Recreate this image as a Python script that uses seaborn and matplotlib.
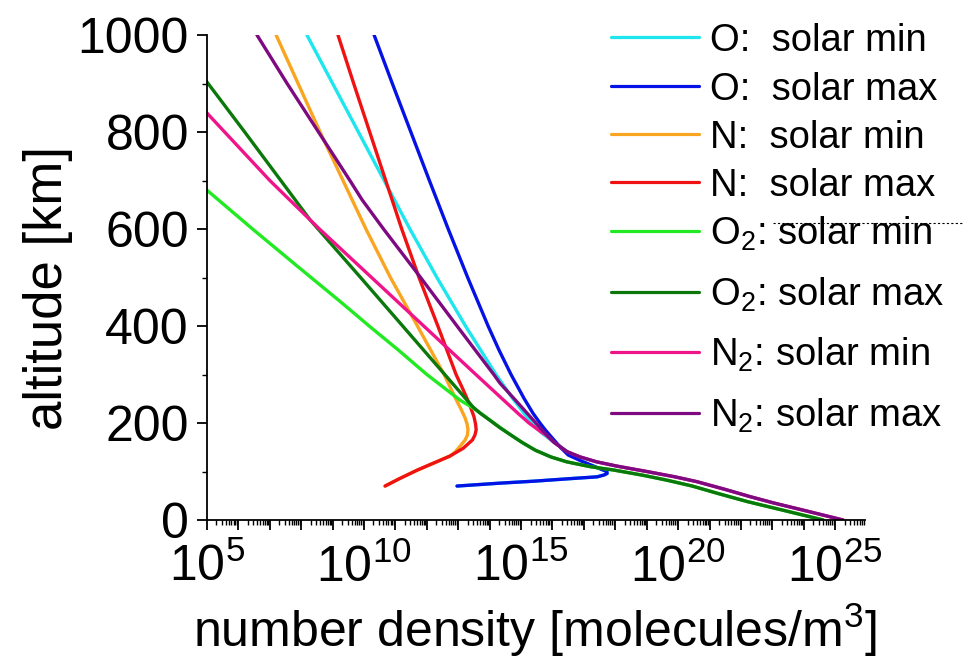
import numpy as np
import pandas as pd
import matplotlib
matplotlib.use("Agg")
import matplotlib.pyplot as plt
import seaborn as sns
from matplotlib.ticker import FixedLocator, FuncFormatter, MultipleLocator, NullFormatter
from matplotlib.lines import Line2D

# ---------------- data (altitude in km, log10 number density in molecules/m^3) -------------
series_order = ["O min", "O max", "N min", "N max", "O2 min", "O2 max", "N2 min", "N2 max"]
legend_labels = ["O:  solar min", "O:  solar max", "N:  solar min", "N:  solar max",
                 "O$_2$: solar min", "O$_2$: solar max", "N$_2$: solar min", "N$_2$: solar max"]
colors = ["#1DE6EF", "#0512E6", "#FAA520", "#F01212", "#22EA22", "#0B780B", "#F0148A", "#7E0A82"]

alt_O_min = [1000, 900, 800, 700, 600, 500, 400, 300, 250, 200, 180, 165, 150, 135, 120, 110, 100, 96, 93, 89, 85, 80, 76, 70]
log_O_min = [8.18, 9.0, 9.82, 10.64, 11.46, 12.32, 13.23, 14.2, 14.74, 15.33, 15.65, 15.95, 16.28, 16.6, 16.98, 17.35, 17.73, 17.74, 17.65, 17.42, 16.5, 15.4, 14.33, 12.96]

alt_O_max = [1000, 900, 800, 700, 600, 500, 400, 350, 300, 250, 220, 200, 185, 170, 150, 134, 120, 110, 100, 96, 93, 89, 85, 80, 76, 70]
log_O_max = [10.32, 10.9, 11.49, 12.08, 12.68, 13.3, 13.95, 14.3, 14.68, 15.1, 15.38, 15.6, 15.78, 15.98, 16.25, 16.5, 16.97, 17.35, 17.73, 17.74, 17.65, 17.42, 16.5, 15.4, 14.33, 12.96]

alt_N_min = [1000, 900, 800, 700, 600, 500, 400, 300, 270, 250, 227, 210, 198, 186, 175, 165, 150, 140, 132, 120, 103, 85, 70]
log_N_min = [7.2, 7.9, 8.6, 9.33, 10.06, 10.84, 11.7, 12.55, 12.77, 12.92, 13.1, 13.22, 13.28, 13.31, 13.29, 13.22, 13.03, 12.9, 12.74, 12.31, 11.7, 11.12, 10.67]

alt_N_max = [1000, 900, 800, 700, 600, 500, 400, 300, 268, 240, 213, 198, 186, 175, 165, 148, 132, 120, 103, 85, 70]
log_N_max = [9.17, 9.67, 10.18, 10.69, 11.2, 11.75, 12.35, 12.93, 13.16, 13.35, 13.5, 13.55, 13.57, 13.53, 13.45, 13.16, 12.74, 12.31, 11.7, 11.12, 10.67]

alt_O2_min = [700, 680, 600, 522, 450, 398, 350, 300, 270, 247, 233, 220, 205, 190, 175, 160, 144, 130, 120, 110, 103, 92, 82, 70, 55, 38, 20, 0]
log_O2_min = [4.65, 5.0, 6.45, 7.9, 9.25, 10.2, 11.1, 12.0, 12.6, 13.06, 13.42, 13.72, 14.03, 14.35, 14.68, 15.03, 15.45, 15.95, 16.45, 17.2, 17.95, 18.9, 19.65, 20.45, 21.25, 22.2, 23.35, 24.62]

alt_O2_max = [1000, 903, 800, 700, 619, 500, 400, 300, 247, 233, 220, 205, 190, 175, 160, 144, 130, 120, 110, 103, 92, 82, 70, 55, 38, 20, 0]
log_O2_max = [3.9, 5.0, 6.2, 7.35, 8.28, 9.89, 11.23, 12.57, 13.28, 13.47, 13.7, 14.02, 14.33, 14.68, 15.03, 15.45, 15.95, 16.45, 17.2, 17.95, 18.9, 19.65, 20.45, 21.25, 22.2, 23.35, 24.62]

alt_N2_min = [900, 839, 700, 600, 500, 400, 300, 254, 220, 200, 181, 175, 160, 141, 130, 120, 111, 100, 89, 79, 63, 48, 35, 20, 0]
log_N2_min = [4.1, 5.0, 7.0, 8.58, 10.24, 11.9, 13.56, 14.33, 14.9, 15.25, 15.65, 15.8, 16.05, 16.46, 16.88, 17.4, 18.06, 19.0, 19.9, 20.6, 21.5, 22.3, 23.05, 24.0, 25.25]

alt_N2_max = [1000, 900, 800, 700, 660, 600, 500, 400, 300, 282, 250, 200, 179, 160, 141, 130, 120, 111, 100, 89, 79, 63, 48, 35, 20, 0]
log_N2_max = [6.59, 7.55, 8.55, 9.55, 9.94, 10.62, 11.8, 12.96, 14.13, 14.33, 14.78, 15.47, 15.76, 16.05, 16.46, 16.88, 17.4, 18.06, 19.0, 19.9, 20.6, 21.5, 22.3, 23.05, 24.0, 25.25]

x_tick_exponents = [5, 10, 15, 20, 25]
y_tick_values = [0, 200, 400, 600, 800, 1000]

# ---------------- build long-form table ----------------
profiles = {
    "O min": (alt_O_min, log_O_min), "O max": (alt_O_max, log_O_max),
    "N min": (alt_N_min, log_N_min), "N max": (alt_N_max, log_N_max),
    "O2 min": (alt_O2_min, log_O2_min), "O2 max": (alt_O2_max, log_O2_max),
    "N2 min": (alt_N2_min, log_N2_min), "N2 max": (alt_N2_max, log_N2_max),
}
frames = []
for key in series_order:
    a, lg = profiles[key]
    frames.append(pd.DataFrame({"series": key, "altitude": a,
                                "density": np.power(10.0, np.array(lg, dtype=float))}))
df = pd.concat(frames, ignore_index=True)

# ---------------- style ----------------
sns.set_style("ticks")
plt.rcParams["font.family"] = ["Liberation Sans", "DejaVu Sans"]
plt.rcParams["mathtext.fontset"] = "custom"
plt.rcParams["mathtext.rm"] = "Liberation Sans"
plt.rcParams["mathtext.it"] = "Liberation Sans:italic"
plt.rcParams["mathtext.bf"] = "Liberation Sans:bold"
plt.rcParams["mathtext.default"] = "regular"
plt.rcParams["text.color"] = "black"
plt.rcParams["axes.labelcolor"] = "black"
plt.rcParams["xtick.color"] = "black"
plt.rcParams["ytick.color"] = "black"

W, H = 964, 662
fig = plt.figure(figsize=(W / 100, H / 100), dpi=100)
fig.patch.set_facecolor("white")
ax_l, ax_r, ax_t, ax_b = 207, 865, 35, 520
ax = fig.add_axes([ax_l / W, 1 - ax_b / H, (ax_r - ax_l) / W, (ax_b - ax_t) / H])
ax.set_facecolor("white")
ax.set_xscale("log")

sns.lineplot(data=df, x="density", y="altitude", hue="series", hue_order=series_order,
             palette=colors, sort=False, estimator=None, units="series",
             linewidth=2.4, legend=False, ax=ax)

ax.set_xlim(1e5, 10 ** 25.95)
ax.set_ylim(0, 1000)
ax.set_xlabel("")
ax.set_ylabel("")

# ticks
ax.xaxis.set_major_locator(FixedLocator([10.0 ** e for e in range(5, 26)]))
ax.xaxis.set_major_formatter(FuncFormatter(
    lambda v, p: (r"$10^{%d}$" % round(np.log10(v))) if round(np.log10(v)) in x_tick_exponents else ""))
minor = [m * 10.0 ** e for e in range(5, 26) for m in range(2, 10)]
ax.xaxis.set_minor_locator(FixedLocator(minor))
ax.xaxis.set_minor_formatter(NullFormatter())
ax.yaxis.set_major_locator(FixedLocator(y_tick_values))
ax.yaxis.set_minor_locator(MultipleLocator(100))

ax.tick_params(axis="both", which="major", direction="out", length=7, width=1.3,
               labelsize=36, color="black", labelcolor="black")
ax.tick_params(axis="both", which="minor", direction="out", length=3.5, width=1.0, color="black")
ax.tick_params(axis="x", which="major", pad=10)
ax.tick_params(axis="y", which="major", pad=6)

sns.despine(ax=ax)
for s in ["left", "bottom"]:
    ax.spines[s].set_linewidth(1.3)
    ax.spines[s].set_color("black")

# axis labels
fig.text(48 / W, 1 - 288 / H, "altitude [km]", rotation=90, ha="center", va="center",
         fontsize=38, color="black")
fig.text(535 / W, 1 - 630 / H, "number density [molecules/m$^3$]", ha="center", va="center",
         fontsize=36, color="black")

# legend (drawn in figure pixels)
legend_y = [37, 86, 134, 182, 231, 292, 352, 413]
for lab, col, yy in zip(legend_labels, colors, legend_y):
    fig.add_artist(Line2D([611 / W, 699 / W], [1 - yy / H, 1 - yy / H], transform=fig.transFigure,
                          color=col, linewidth=2.3))
    fig.text(710 / W, 1 - (yy + 14) / H, lab, ha="left", va="baseline", fontsize=27.5, color="black")

# dotted artifact line across the O2 legend entry
fig.add_artist(Line2D([773 / W, 964 / W], [1 - 223 / H, 1 - 223 / H], transform=fig.transFigure,
                      color="black", linewidth=0.8, linestyle=(0, (2, 2))))

fig.savefig("out.png", dpi=100, facecolor="white")
